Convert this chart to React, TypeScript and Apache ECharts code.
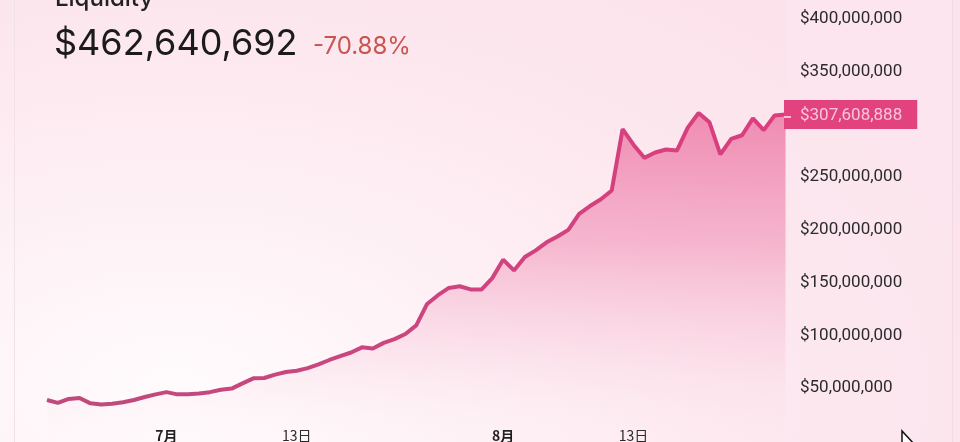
import React, { useEffect, useRef } from "react";
import * as echarts from "echarts";

const title = "Liquidity";
const totalValue = "$462,640,692";
const changeText = "-70.88%";
const lastValueLabel = 307608888;

// daily dates Jun 20 .. Aug 27
const startDate = { month: 6, day: 20 };
const dayCount = 69;

// values in millions USD
const liquidityM = [
  37.0, 34.3, 38.0, 38.9, 33.8, 32.6, 33.5, 34.9, 37.0, 39.8,
  42.3, 44.4, 42.3, 42.4, 43.2, 44.4, 46.7, 47.8, 52.7, 57.5,
  57.8, 61.0, 63.5, 64.7, 67.2, 70.7, 74.9, 78.6, 82.0, 86.9,
  85.7, 91.1, 94.7, 99.5, 107.7, 128.0, 136.3, 143.2, 144.8, 141.8,
  141.7, 152.5, 170.0, 159.8, 172.5, 178.8, 186.4, 191.9, 198.2, 213.4,
  220.8, 227.3, 235.6, 293.7, 279.0, 266.5, 271.6, 274.4, 273.4, 295.1,
  309.0, 300.2, 269.7, 284.5, 287.9, 303.9, 292.8, 306.7, 307.608888,
];

// x tick labels: category index -> text
const xTickLabels: Record<number, { text: string; bold: boolean }> = {
  11: { text: "7月", bold: true },
  23: { text: "13日", bold: false },
  42: { text: "8月", bold: true },
  54: { text: "13日", bold: false },
};

const yMin = 0;
const yMax = 400000000;
const yInterval = 50000000;
// tick hidden behind the current-value box
const yHiddenTick = 300000000;

function buildDates(): string[] {
  const out: string[] = [];
  const monthDays: Record<number, number> = { 6: 30, 7: 31, 8: 31 };
  let m = startDate.month;
  let d = startDate.day;
  for (let i = 0; i < dayCount; i++) {
    out.push(`${m}/${d}`);
    d++;
    if (d > monthDays[m]) {
      d = 1;
      m++;
    }
  }
  return out;
}

const fmtUSD = (v: number) => "$" + Math.round(v).toLocaleString("en-US");

export default function App() {
  const ref = useRef<HTMLDivElement>(null);
  useEffect(() => {
    if (!ref.current) return;
    const chart = echarts.init(ref.current, null, { renderer: "svg" });
    const dates = buildDates();
    const values = liquidityM.map((v) => Math.round(v * 1e6));
    const labelFont = "Roboto, 'Noto Sans', sans-serif";
    chart.setOption({
      animation: false,
      backgroundColor: "transparent",
      grid: { left: 47, right: 174.5, top: 17, bottom: -8, containLabel: false },
      xAxis: {
        type: "category",
        data: dates,
        boundaryGap: false,
        offset: -19,
        axisLine: { show: false },
        axisTick: { show: false },
        splitLine: { show: false },
        axisLabel: {
          margin: 8,
          interval: (index: number) => xTickLabels[index] !== undefined,
          formatter: (_v: string, index: number) => {
            const t = xTickLabels[index];
            if (!t) return "";
            return t.bold ? `{b|${t.text}}` : `{n|${t.text}}`;
          },
          rich: {
            b: {
              fontFamily: "'Noto Sans CJK SC', sans-serif",
              fontSize: 14,
              fontWeight: "bold",
              color: "#1e1e1e",
            },
            n: {
              fontFamily: "'Noto Sans CJK SC', sans-serif",
              fontSize: 14,
              color: "#2a2a2a",
            },
          },
        },
      },
      yAxis: {
        type: "value",
        position: "right",
        min: yMin,
        max: yMax,
        interval: yInterval,
        axisLine: { show: false },
        axisTick: { show: false },
        splitLine: { show: false },
        axisLabel: {
          margin: 14.5,
          showMinLabel: false,
          fontFamily: labelFont,
          fontSize: 17,
          color: "#2b2b2b",
          formatter: (v: number) => (v === yHiddenTick ? "" : fmtUSD(v)),
        },
      },
      series: [
        {
          type: "line",
          data: values,
          symbol: "none",
          smooth: false,
          lineStyle: {
            width: 4,
            color: new echarts.graphic.LinearGradient(0, 0, 1, 0, [
              { offset: 0, color: "#bf4a7b" },
              { offset: 0.5, color: "#cc4580" },
              { offset: 1, color: "#dc3d7e" },
            ]),
          },
          areaStyle: {
            color: new echarts.graphic.LinearGradient(0, 0, 0, 1, [
              { offset: 0, color: "rgba(232,90,145,0.92)" },
              { offset: 0.4, color: "rgba(238,130,172,0.72)" },
              { offset: 0.75, color: "rgba(245,185,208,0.35)" },
              { offset: 1, color: "rgba(252,225,235,0)" },
            ]),
          },
          markLine: {
            silent: true,
            symbol: ["none", "none"],
            lineStyle: { color: "rgba(0,0,0,0)", width: 0 },
            data: [{ yAxis: lastValueLabel }],
            label: {
              show: true,
              position: "end",
              distance: -1.5,
              formatter: () => fmtUSD(lastValueLabel),
              backgroundColor: "#e2437f",
              color: "#f8c6da",
              fontFamily: labelFont,
              fontSize: 17,
              padding: [5, 15, 4, 16],
              lineHeight: 20,
            },
          },
        },
      ],
      graphic: [
        {
          type: "rect",
          z: -10,
          shape: { x: 786, y: 0, width: 166, height: 442 },
          style: { fill: "rgba(252,232,240,0.55)" },
          silent: true,
        },
        {
          type: "line",
          z: -9,
          shape: { x1: 952.5, y1: 0, x2: 952.5, y2: 442 },
          style: { stroke: "#efdbe2", lineWidth: 1 },
          silent: true,
        },
        {
          type: "line",
          z: -9,
          shape: { x1: 14.5, y1: 0, x2: 14.5, y2: 442 },
          style: { stroke: "#f1e2e7", lineWidth: 1 },
          silent: true,
        },
        {
          type: "line",
          z: 20,
          shape: { x1: 784, y1: 117, x2: 791, y2: 117 },
          style: { stroke: "#fde6ef", lineWidth: 1.5 },
          silent: true,
        },
        {
          type: "text",
          x: 55,
          y: 9,
          style: {
            text: title,
            font: "500 24px Inter, 'Noto Sans', sans-serif",
            fill: "#222222",
            textVerticalAlign: "bottom",
          },
        },
        {
          type: "text",
          x: 54,
          y: 42,
          style: {
            text: totalValue,
            font: "400 36px Inter, 'Noto Sans', sans-serif",
            fill: "#1b1b1b",
            textVerticalAlign: "middle",
          },
        },
        {
          type: "text",
          x: 313,
          y: 45,
          style: {
            text: changeText,
            font: "400 24px Inter, 'Noto Sans', sans-serif",
            fill: "#c85650",
            textVerticalAlign: "middle",
          },
        },
        {
          type: "polygon",
          shape: {
            points: [
              [902, 431],
              [902, 450],
              [906, 446],
              [909, 453],
              [912, 452],
              [909, 445],
              [915, 445],
            ],
          },
          style: { fill: "#ffffff", stroke: "#111111", lineWidth: 1.5 },
          silent: true,
        },
      ],
    });
    return () => chart.dispose();
  }, []);

  return (
    <div
      style={{
        position: "fixed",
        left: 0,
        top: 0,
        width: 960,
        height: 442,
        background:
          "radial-gradient(ellipse 90% 110% at 18% 88%, #fffbfc 0%, #fef3f7 30%, #fde9f0 65%, #fce3eb 100%)",
      }}
    >
      <div ref={ref} style={{ width: 960, height: 442 }} />
    </div>
  );
}
